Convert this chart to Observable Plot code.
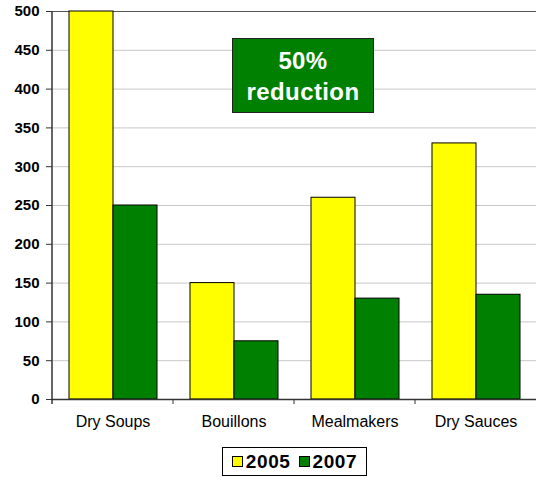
<!DOCTYPE html>
<html>
<head>
<meta charset="utf-8">
<script src="https://cdn.jsdelivr.net/npm/d3@7"></script>
<script src="https://cdn.jsdelivr.net/npm/@observablehq/plot@0.6"></script>
<style>
  html, body { margin: 0; padding: 0; background: #fff; }
  #wrap { position: relative; width: 537px; height: 477px; font-family: "Liberation Sans", Arial, sans-serif; }
  #chart svg { display: block; }
  #note { position: absolute; left: 232px; top: 38px; width: 140px; height: 73px; background: #008000; border: 1px solid #222;
          color: #fff; font-weight: bold; font-size: 24px; letter-spacing: 0.4px; line-height: 31px; text-align: center; display: flex; flex-direction: column; justify-content: center; }
  #legend { position: absolute; left: 222px; top: 447px; width: 143px; height: 27px; border: 1px solid #000; display: flex; align-items: center; justify-content: center;
            font-weight: bold; font-size: 19px; letter-spacing: 0.6px; }
  .item { display: flex; align-items: center; margin: 0 4px; }
  .sw { width: 9px; height: 9px; border: 1px solid #000; margin-right: 3px; }
</style>
</head>
<body>
<div id="wrap">
  <div id="chart"></div>
  <div id="note"><div>50%</div><div>reduction</div></div>
  <div id="legend"></div>
</div>
<script>
const categories = ["Dry Soups", "Bouillons", "Mealmakers", "Dry Sauces"];
const years = ["2005", "2007"];
const values2005 = [500, 150, 260, 330];
const values2007 = [250, 75, 130, 135];
const yTicks = [0, 50, 100, 150, 200, 250, 300, 350, 400, 450, 500];
const colors = ["#ffff00", "#008000"];

const data = categories.flatMap((c, i) => [
  {category: c, year: years[0], value: values2005[i]},
  {category: c, year: years[1], value: values2007[i]}
]);

const plot = Plot.plot({
  width: 537,
  height: 430,
  marginTop: 11,
  marginLeft: 51,
  marginRight: 0,
  marginBottom: 31,
  style: {fontFamily: "Liberation Sans, Arial, sans-serif", background: "#fff"},
  fx: {domain: categories, padding: 0, label: null, axis: null},
  x: {domain: years, paddingInner: 0, paddingOuter: 0.35, axis: null},
  y: {domain: [0, 500], label: null, axis: null},
  color: {domain: years, range: colors},
  marks: [
    Plot.gridY(yTicks.filter(d => d < 500), {stroke: "#c8c8c8", strokeOpacity: 1}),
    Plot.ruleY([500], {stroke: "#555"}),
    Plot.barY(data, {fx: "category", x: "year", y: "value", fill: "year", stroke: "#000", strokeWidth: 1}),
    Plot.ruleY([0], {stroke: "#333", strokeWidth: 1.5}),
    Plot.axisY(yTicks, {anchor: "left", tickSize: 6, tickPadding: 7, fontSize: 15, fontWeight: "bold", fill: "#000", stroke: "#333", label: null}),
    Plot.axisFx({anchor: "bottom", tickSize: 0, tickPadding: 16, fontSize: 16, fill: "#000", label: null})
  ]
});

document.getElementById("chart").appendChild(plot);

// axis line on the left and category boundary ticks, positioned via the plot's scales
const svg = d3.select(plot);
svg.selectAll('[aria-label="y-axis tick label"] text, [aria-label="y-axis tick label"]').attr("font-weight", "bold");
const fx = plot.scale("fx");
const yS = plot.scale("y");
const y0 = yS.apply(0), y1 = yS.apply(500);
const left = fx.apply(categories[0]);
const step = fx.bandwidth;
const g = svg.append("g").attr("stroke", "#333").attr("stroke-width", 1.5);
g.append("line").attr("x1", left).attr("x2", left).attr("y1", y1).attr("y2", y0 + 5);
categories.forEach((c, i) => {
  const x = fx.apply(c) + step;
  if (i < categories.length - 1)
    g.append("line").attr("x1", x).attr("x2", x).attr("y1", y0).attr("y2", y0 + 5).attr("stroke-width", 1);
});

const legend = document.getElementById("legend");
years.forEach((y, i) => {
  const it = document.createElement("div");
  it.className = "item";
  it.innerHTML = `<div class="sw" style="background:${colors[i]}"></div><span>${y}</span>`;
  legend.appendChild(it);
});
</script>
</body>
</html>
